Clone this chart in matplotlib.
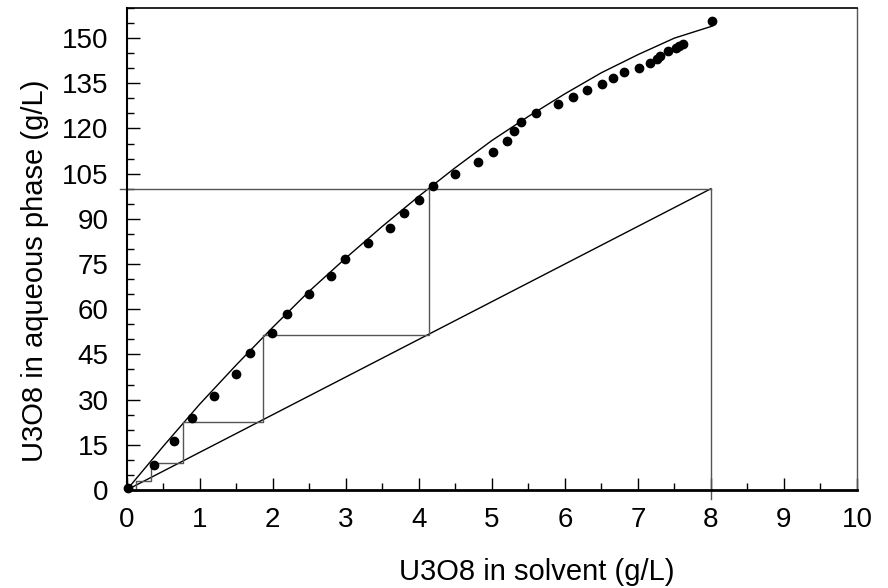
import matplotlib.pyplot as plt

plt.rcParams['font.family'] = ['Liberation Sans', 'DejaVu Sans']

# measured points
x_data = [0.02, 0.37, 0.65, 0.90, 1.19, 1.50, 1.69, 1.99, 2.19, 2.49, 2.80, 2.99,
          3.30, 3.60, 3.80, 4.00, 4.20, 4.50, 4.81, 5.01, 5.21, 5.31, 5.40, 5.60,
          5.90, 6.11, 6.31, 6.51, 6.66, 6.81, 7.01, 7.16, 7.26, 7.31, 7.41, 7.52,
          7.57, 7.62, 8.02]
y_data = [0.6, 8.3, 16.2, 24.0, 31.3, 38.6, 45.4, 52.1, 58.4, 65.1, 71.0, 76.6,
          81.9, 86.9, 91.8, 96.3, 100.8, 105.0, 108.8, 112.3, 115.8, 119.2, 122.3, 125.3,
          128.0, 130.4, 132.9, 134.9, 136.9, 138.7, 140.2, 141.7, 143.0, 144.2, 145.6, 146.6,
          147.3, 148.1, 155.6]

# equilibrium curve
x_curve = [0, 0.5, 1, 1.5, 2, 2.5, 3, 3.5, 4, 4.5, 5, 5.5, 6, 6.5, 7, 7.5, 8.02]
y_curve = [0, 14.5, 28.5, 41.5, 54, 66, 77, 87.5, 97.5, 107, 116, 124, 131.5, 138.5, 144.5, 150, 154]

# operating line
x_op = [0, 8]
y_op = [0, 100]

# McCabe-Thiele steps
x_steps = [4.14, 4.14, 1.87, 1.87, 0.77, 0.77, 0.33, 0.33, 0.13, 0.13]
y_steps = [100, 51.5, 51.5, 22.5, 22.5, 8.8, 8.8, 3.0, 3.0, 0]

fig = plt.figure(figsize=(8.88, 5.88), dpi=100)
ax = fig.add_axes([0.1427, 0.1667, 0.8223, 0.8197])

ax.plot(x_curve, y_curve, color='black', lw=1)
ax.plot(x_op, y_op, color='black', lw=1)
ax.plot(x_steps, y_steps, color='#555555', lw=1)
ax.plot([-0.09, 8], [100, 100], color='#555555', lw=1, clip_on=False)
ax.plot([8, 8], [-3, 100], color='#555555', lw=1, clip_on=False)
ax.plot(x_data, y_data, 'o', color='black', markersize=6, clip_on=False)

ax.set_xlim(0, 10)
ax.set_ylim(0, 160)
ax.set_xticks(range(0, 11))
ax.set_xticks([i + 0.5 for i in range(10)], minor=True)
ax.set_yticks(range(0, 151, 15))
ax.set_yticks([v for v in range(0, 161, 5) if v % 15 != 0], minor=True)

ax.tick_params(which='both', direction='in', top=False, right=False, labelsize=20)
ax.tick_params(axis='x', which='major', length=9, width=1, pad=12)
ax.tick_params(axis='y', which='major', length=9.5, width=1, pad=13)
ax.tick_params(which='minor', length=5, width=1)

ax.spines['left'].set_linewidth(1.5)
ax.spines['bottom'].set_linewidth(2)
ax.spines['top'].set_linewidth(1.2)
ax.spines['right'].set_linewidth(1)
ax.spines['right'].set_color('#555555')

fig.text(0.6047, 0.027, 'U3O8 in solvent (g/L)', fontsize=21, ha='center', va='center')
fig.text(0.0394, 0.539, 'U3O8 in aqueous phase (g/L)', fontsize=21, ha='center', va='center',
         rotation=90)

fig.savefig('out.png', dpi=100)
